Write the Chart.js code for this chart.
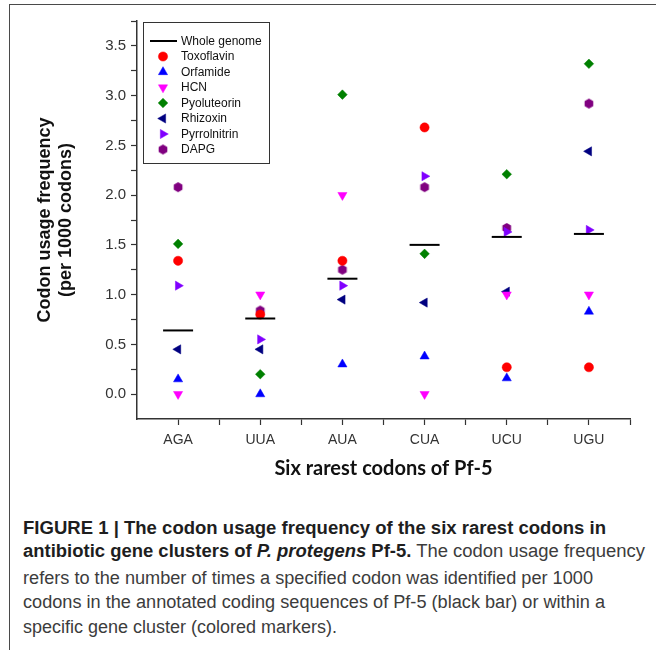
<!DOCTYPE html>
<html>
<head>
<meta charset="utf-8">
<script src="https://cdn.jsdelivr.net/npm/chart.js@4.4.1/dist/chart.umd.min.js"></script>
<style>
  html, body { margin: 0; padding: 0; background: #fff; }
  body { width: 656px; height: 650px; position: relative; overflow: hidden; }
  #frame { position: absolute; left: 9px; top: 4px; width: 660px; height: 660px;
           border-top: 1.5px solid #4a4a4a; border-left: 1.5px solid #4a4a4a; }
  #chart { position: absolute; left: 0; top: 0; }
  .cap { position: absolute; left: 23px; font-family: "Liberation Sans Narrow", "Liberation Sans", Arial, sans-serif;
         font-size: 18px; line-height: 18px; white-space: nowrap; transform-origin: 0 0; color: #3c3c3c; }
  .cap b { color: #1e1e1e; }
</style>
</head>
<body>
<div id="frame"></div>
<canvas id="chart" width="656" height="500"></canvas>
<div class="cap" id="l1" data-w="583" style="top:519px"><b>FIGURE 1 | The codon usage frequency of the six rarest codons in</b></div>
<div class="cap" id="l2" data-w="622" style="top:542px"><b>antibiotic gene clusters of <i>P. protegens</i> Pf-5.</b> The codon usage frequency</div>
<div class="cap" id="l3" data-w="570" style="top:569px">refers to the number of times a specified codon was identified per 1000</div>
<div class="cap" id="l4" data-w="582" style="top:593px">codons in the annotated coding sequences of Pf-5 (black bar) or within a</div>
<div class="cap" id="l5" data-w="314" style="top:618px">specific gene cluster (colored markers).</div>
<script>
// ---- data ----
const categories   = ['AGA', 'UUA', 'AUA', 'CUA', 'UCU', 'UGU'];
const wholeGenome  = [0.64, 0.76, 1.16, 1.50, 1.58, 1.61];
const toxoflavin   = [1.34, 0.80, 1.34, 2.68, 0.27, 0.27];
const orfamide     = [0.15, 0.00, 0.30, 0.38, 0.16, 0.83];
const hcn          = [0.00, 1.00, 2.00, 0.00, 1.00, 1.00];
const pyoluteorin  = [1.51, 0.20, 3.01, 1.41, 2.21, 3.32];
const rhizoxin     = [0.45, 0.45, 0.95, 0.92, 1.03, 2.44];
const pyrrolnitrin = [1.09, 0.55, 1.09, 2.19, 1.63, 1.65];
const dapg         = [2.08, 0.84, 1.25, 2.08, 1.67, 2.92];
const yTickValues  = [0, 0.5, 1.0, 1.5, 2.0, 2.5, 3.0, 3.5];

// hexagon marker
function hexagon(color, r) {
  const c = document.createElement('canvas');
  const s = Math.ceil(r * 2) + 2;
  c.width = s; c.height = s;
  const g = c.getContext('2d');
  g.fillStyle = color;
  g.beginPath();
  for (let i = 0; i < 6; i++) {
    const a = Math.PI / 6 + i * Math.PI / 3;
    const px = s / 2 + r * Math.cos(a), py = s / 2 + r * Math.sin(a);
    if (i === 0) g.moveTo(px, py); else g.lineTo(px, py);
  }
  g.closePath(); g.fill();
  return c;
}
const hexImg = hexagon('#800080', 5);

const pts = arr => arr.map((v, i) => ({ x: i, y: v }));
function markerSet(label, data, color, style, radius, rotation) {
  return {
    label, data: pts(data), showLine: false,
    pointStyle: style, pointRadius: radius, pointHoverRadius: radius,
    pointRotation: rotation || 0,
    pointBackgroundColor: color, pointBorderColor: color, pointBorderWidth: style === hexImg ? 0 : 0.5,
    backgroundColor: color, borderColor: color
  };
}

const datasets = [
  { label: 'Whole genome', data: pts(wholeGenome), showLine: false, pointStyle: 'line',
    pointRadius: 15, pointHoverRadius: 15, pointBorderWidth: 2, pointBorderColor: '#000', borderColor: '#000', backgroundColor: '#000' },
  markerSet('Toxoflavin', toxoflavin, '#ff0000', 'circle', 4.6),
  markerSet('Orfamide', orfamide, '#0000ff', 'triangle', 5.3, 0),
  markerSet('HCN', hcn, '#ff00ff', 'triangle', 5.3, 180),
  markerSet('Pyoluteorin', pyoluteorin, '#008000', 'rectRot', 4.8),
  markerSet('Rhizoxin', rhizoxin, '#000080', 'triangle', 5.3, 270),
  markerSet('Pyrrolnitrin', pyrrolnitrin, '#8000ff', 'triangle', 5.3, 90),
  markerSet('DAPG', dapg, '#800080', hexImg, 5)
];

// custom inside legend
const insideLegend = {
  id: 'insideLegend',
  afterDraw(chart) {
    const ctx = chart.ctx;
    const x0 = 143, y0 = 22, w = 126, h = 141;
    ctx.save();
    ctx.fillStyle = '#fff';
    ctx.fillRect(x0, y0, w, h);
    ctx.strokeStyle = '#333';
    ctx.lineWidth = 1;
    ctx.strokeRect(x0 + 0.5, y0 + 0.5, w, h);
    ctx.font = '12px "Liberation Sans", Arial, sans-serif';
    ctx.textBaseline = 'middle';
    ctx.textAlign = 'left';
    chart.data.datasets.forEach((ds, i) => {
      const cy = 41 + i * 15.5;
      ctx.fillStyle = ds.pointBackgroundColor || '#000';
      ctx.strokeStyle = ds.pointBorderColor || '#000';
      if (ds.pointStyle === 'line') {
        ctx.lineWidth = 2;
        ctx.beginPath(); ctx.moveTo(150, cy); ctx.lineTo(177, cy); ctx.stroke();
      } else {
        ctx.lineWidth = ds.pointBorderWidth;
        Chart.helpers.drawPoint(ctx, { pointStyle: ds.pointStyle, rotation: ds.pointRotation, radius: ds.pointRadius, borderWidth: ds.pointBorderWidth }, 163, cy);
      }
      ctx.fillStyle = '#111';
      ctx.fillText(ds.label, 181, cy + 0.5);
    });
    ctx.restore();
  }
};

new Chart(document.getElementById('chart'), {
  type: 'scatter',
  data: { datasets },
  plugins: [insideLegend],
  options: {
    responsive: false,
    animation: false,
    devicePixelRatio: 1,
    layout: { padding: { top: 21, right: 26, left: 0, bottom: 0 } },
    plugins: { legend: { display: false }, tooltip: { enabled: false } },
    scales: {
      x: {
        type: 'linear', min: -0.5, max: 5.5,
        afterBuildTicks: s => { const t = []; for (let v = 0; v <= 5.5; v += 0.5) t.push({ value: v }); s.ticks = t; },
        afterFit: s => { s.height = 81; },
        grid: { drawOnChartArea: false, drawTicks: true, tickLength: 6, tickColor: '#333', tickWidth: 1.2 },
        border: { color: '#333', width: 1.5 },
        ticks: {
          autoSkip: false, maxRotation: 0, padding: 7, color: '#333',
          font: { family: '"Liberation Sans", Arial, sans-serif', size: 14 },
          callback: v => Number.isInteger(v) ? categories[v] : ''
        },
        title: { display: true, text: 'Six rarest codons of Pf-5', color: '#111',
                 font: { family: 'Lato, "Open Sans", sans-serif', size: 20, weight: 'bold' },
                 padding: { top: 0, bottom: 19 } }
      },
      y: {
        type: 'linear', min: -0.25, max: 3.75,
        afterBuildTicks: s => { const t = []; for (let k = 0; k <= 15; k++) t.push({ value: k * 0.25 }); s.ticks = t; },
        afterFit: s => { s.width = 137; },
        grid: { drawOnChartArea: false, drawTicks: true, tickLength: 6, tickColor: '#333', tickWidth: 1.2 },
        border: { color: '#333', width: 1.5 },
        ticks: {
          autoSkip: false, padding: 5, color: '#333',
          font: { family: '"Liberation Sans", Arial, sans-serif', size: 15 },
          callback: v => yTickValues.includes(v) ? v.toFixed(1) : ''
        },
        title: { display: true, text: ['Codon usage frequency', '(per 1000 codons)'], color: '#111',
                 font: { family: '"Liberation Sans", Arial, sans-serif', size: 18, weight: 'bold', lineHeight: 1.17 },
                 padding: { top: 34.5, bottom: 0 } }
      }
    }
  }
});

// fit caption lines to their widths
function fitCaption() {
  document.querySelectorAll('.cap').forEach(el => {
    el.style.transform = 'none';
    const w = el.getBoundingClientRect().width;
    const target = +el.dataset.w;
    if (w > 0) el.style.transform = 'scaleX(' + (target / w) + ')';
  });
}
fitCaption();
if (document.fonts && document.fonts.ready) document.fonts.ready.then(fitCaption);
</script>
</body>
</html>
